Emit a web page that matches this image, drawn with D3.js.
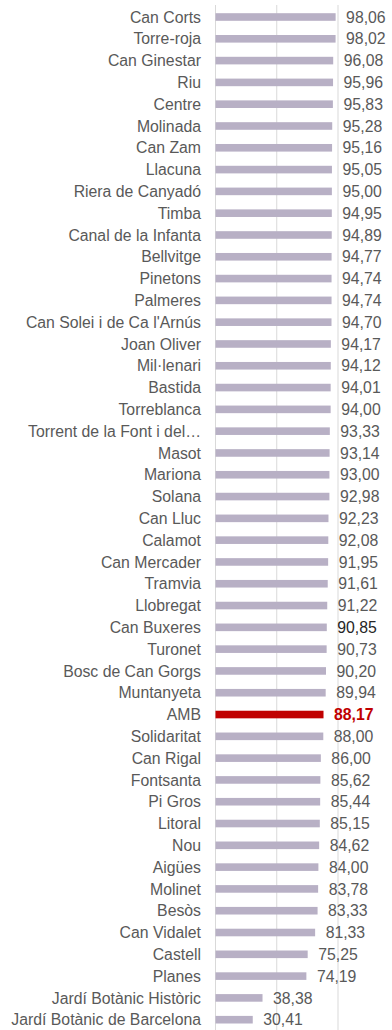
<!DOCTYPE html>
<html>
<head>
<meta charset="utf-8">
<script src="https://cdn.jsdelivr.net/npm/d3@7"></script>
<style>
  html, body { margin: 0; padding: 0; background: #fff; }
  svg { display: block; }
  text { font-family: "Liberation Sans", Arial, sans-serif; }
</style>
</head>
<body>
<svg id="chart" width="392" height="1030"></svg>
<script>
// Neighbourhoods, ordered from highest to lowest value
const categories = [
  "Can Corts", "Torre-roja", "Can Ginestar", "Riu", "Centre", "Molinada",
  "Can Zam", "Llacuna", "Riera de Canyadó", "Timba", "Canal de la Infanta",
  "Bellvitge", "Pinetons", "Palmeres", "Can Solei i de Ca l'Arnús",
  "Joan Oliver", "Mil·lenari", "Bastida", "Torreblanca",
  "Torrent de la Font i del…", "Masot", "Mariona", "Solana", "Can Lluc",
  "Calamot", "Can Mercader", "Tramvia", "Llobregat", "Can Buxeres",
  "Turonet", "Bosc de Can Gorgs", "Muntanyeta", "AMB", "Solidaritat",
  "Can Rigal", "Fontsanta", "Pi Gros", "Litoral", "Nou", "Aigües",
  "Molinet", "Besòs", "Can Vidalet", "Castell", "Planes",
  "Jardí Botànic Històric", "Jardí Botànic de Barcelona"
];

const values = [
  98.06, 98.02, 96.08, 95.96, 95.83, 95.28,
  95.16, 95.05, 95.00, 94.95, 94.89,
  94.77, 94.74, 94.74, 94.70,
  94.17, 94.12, 94.01, 94.00,
  93.33, 93.14, 93.00, 92.98, 92.23,
  92.08, 91.95, 91.61, 91.22, 90.85,
  90.73, 90.20, 89.94, 88.17, 88.00,
  86.00, 85.62, 85.44, 85.15, 84.62, 84.00,
  83.78, 83.33, 81.33, 75.25, 74.19,
  38.38, 30.41
];

const gridTicks = [0, 50, 100];

// Reference total shown in red; one value label drawn darker
const highlight = "AMB";
const darkLabel = "Can Buxeres";

const data = categories.map((c, i) => ({ name: c, value: values[i] }));

const svg = d3.select("#chart");

const x = d3.scaleLinear().domain([0, 100]).range([215.5, 338]);
const y = d3.scalePoint().domain(categories).range([17, 1019.7]);
const barH = 7.6;

const fmt = v => d3.format(".2f")(v).replace(".", ",");

// vertical gridlines
svg.append("g")
  .selectAll("line")
  .data(gridTicks)
  .join("line")
  .attr("x1", d => x(d))
  .attr("x2", d => x(d))
  .attr("y1", 5)
  .attr("y2", 1030)
  .attr("stroke", "#d9d9d9")
  .attr("stroke-width", 1);

// bars
svg.append("g")
  .selectAll("rect")
  .data(data)
  .join("rect")
  .attr("x", x(0))
  .attr("y", d => y(d.name) - barH / 2)
  .attr("width", d => x(d.value) - x(0))
  .attr("height", barH)
  .attr("fill", d => d.name === highlight ? "#c00000" : "#b8b0c5");

// category labels
svg.append("g")
  .selectAll("text")
  .data(data)
  .join("text")
  .attr("x", 201)
  .attr("y", d => y(d.name))
  .attr("dy", "0.36em")
  .attr("text-anchor", "end")
  .attr("font-size", "15.8px")
  .attr("fill", "#595959")
  .text(d => d.name);

// value labels
svg.append("g")
  .selectAll("text")
  .data(data)
  .join("text")
  .attr("x", d => x(d.value) + 10.5)
  .attr("y", d => y(d.name))
  .attr("dy", "0.36em")
  .attr("font-size", "15.8px")
  .attr("font-weight", d => d.name === highlight ? "bold" : "normal")
  .attr("fill", d => d.name === highlight ? "#c00000" : (d.name === darkLabel ? "#262626" : "#595959"))
  .text(d => fmt(d.value));
</script>
</body>
</html>
